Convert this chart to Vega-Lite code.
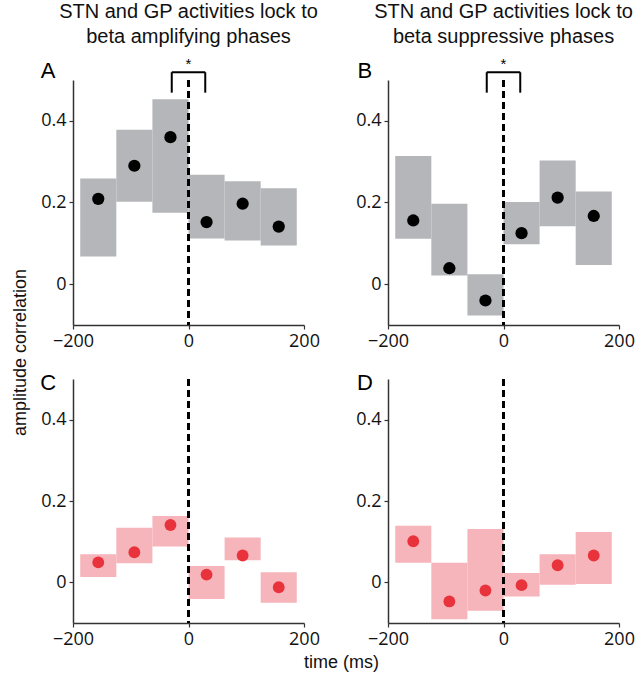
{
  "$schema": "https://vega.github.io/schema/vega-lite/v6.json",
  "padding": {"left": 11, "top": 1, "right": 5, "bottom": 5},
  "background": "white",
  "config": {
    "view": {"stroke": null},
    "axis": {"domainColor": "#333", "domainWidth": 1.5, "tickColor": "#333", "tickSize": 4, "tickWidth": 1.2, "labelFont": "Open Sans", "labelFontSize": 18, "labelColor": "#111", "grid": false, "titleFont": "Liberation Sans", "titleFontSize": 18, "titleFontWeight": "normal", "titleColor": "#111", "labelPadding": 3, "labelFlush": false}
  },
  "datasets": {
    "boxes": [
      {"panel": "A", "t0": -187.5, "t1": -125, "t": -156.25, "lo": 0.068, "hi": 0.259, "val": 0.209},
      {"panel": "A", "t0": -125, "t1": -62.5, "t": -93.75, "lo": 0.202, "hi": 0.378, "val": 0.290},
      {"panel": "A", "t0": -62.5, "t1": 0, "t": -31.25, "lo": 0.175, "hi": 0.453, "val": 0.360},
      {"panel": "A", "t0": 0, "t1": 62.5, "t": 31.25, "lo": 0.112, "hi": 0.268, "val": 0.152},
      {"panel": "A", "t0": 62.5, "t1": 125, "t": 93.75, "lo": 0.107, "hi": 0.252, "val": 0.197},
      {"panel": "A", "t0": 125, "t1": 187.5, "t": 156.25, "lo": 0.095, "hi": 0.235, "val": 0.141},
      {"panel": "B", "t0": -187.5, "t1": -125, "t": -156.25, "lo": 0.111, "hi": 0.314, "val": 0.156},
      {"panel": "B", "t0": -125, "t1": -62.5, "t": -93.75, "lo": 0.021, "hi": 0.197, "val": 0.039},
      {"panel": "B", "t0": -62.5, "t1": 0, "t": -31.25, "lo": -0.077, "hi": 0.024, "val": -0.040},
      {"panel": "B", "t0": 0, "t1": 62.5, "t": 31.25, "lo": 0.098, "hi": 0.201, "val": 0.125},
      {"panel": "B", "t0": 62.5, "t1": 125, "t": 93.75, "lo": 0.142, "hi": 0.303, "val": 0.212},
      {"panel": "B", "t0": 125, "t1": 187.5, "t": 156.25, "lo": 0.047, "hi": 0.227, "val": 0.167},
      {"panel": "C", "t0": -187.5, "t1": -125, "t": -156.25, "lo": 0.013, "hi": 0.069, "val": 0.049},
      {"panel": "C", "t0": -125, "t1": -62.5, "t": -93.75, "lo": 0.047, "hi": 0.134, "val": 0.074},
      {"panel": "C", "t0": -62.5, "t1": 0, "t": -31.25, "lo": 0.088, "hi": 0.163, "val": 0.141},
      {"panel": "C", "t0": 0, "t1": 62.5, "t": 31.25, "lo": -0.041, "hi": 0.040, "val": 0.019},
      {"panel": "C", "t0": 62.5, "t1": 125, "t": 93.75, "lo": 0.054, "hi": 0.110, "val": 0.066},
      {"panel": "C", "t0": 125, "t1": 187.5, "t": 156.25, "lo": -0.050, "hi": 0.025, "val": -0.012},
      {"panel": "D", "t0": -187.5, "t1": -125, "t": -156.25, "lo": 0.048, "hi": 0.139, "val": 0.101},
      {"panel": "D", "t0": -125, "t1": -62.5, "t": -93.75, "lo": -0.091, "hi": 0.048, "val": -0.047},
      {"panel": "D", "t0": -62.5, "t1": 0, "t": -31.25, "lo": -0.070, "hi": 0.131, "val": -0.020},
      {"panel": "D", "t0": 0, "t1": 62.5, "t": 31.25, "lo": -0.035, "hi": 0.023, "val": -0.007},
      {"panel": "D", "t0": 62.5, "t1": 125, "t": 93.75, "lo": -0.006, "hi": 0.069, "val": 0.042},
      {"panel": "D", "t0": 125, "t1": 187.5, "t": 156.25, "lo": -0.004, "hi": 0.124, "val": 0.066}
    ],
    "zero": [{"x": 0}],
    "bracket": [
      {"x": -29, "x2": 29, "y": 0.519, "y2": 0.519},
      {"x": -29, "x2": -29, "y": 0.519, "y2": 0.469},
      {"x": 29, "x2": 29, "y": 0.519, "y2": 0.469}
    ],
    "star": [{"x": 0, "y": 0.54, "label": "*"}],
    "letters": [
      {"panel": "A", "x": -243, "y": 0.522, "label": "A"},
      {"panel": "B", "x": -240, "y": 0.522, "label": "B"},
      {"panel": "C", "x": -243, "y": 0.49, "label": "C"},
      {"panel": "D", "x": -240, "y": 0.49, "label": "D"}
    ]
  },
  "columns": 2,
  "spacing": {"row": 54, "column": 84},
  "bounds": "flush",
  "concat": [
    {
      "width": 231, "height": 245,
      "title": {"text": ["STN and GP activities lock to", "beta amplifying phases"], "font": "Liberation Sans", "fontSize": 20, "fontWeight": "normal", "lineHeight": 25, "offset": 10, "anchor": "middle", "color": "#111"},
      "layer": [
        {"data": {"name": "boxes"}, "transform": [{"filter": "datum.panel === 'A'"}],
         "mark": {"type": "rect", "color": "#b4b6b9"},
         "encoding": {
           "x": {"field": "t0", "type": "quantitative", "scale": {"domain": [-200, 200], "nice": false}, "axis": {"title": null, "values": [-200, 0, 200], "format": "d"}},
           "x2": {"field": "t1"},
           "y": {"field": "lo", "type": "quantitative", "scale": {"domain": [-0.1, 0.5], "nice": false}, "axis": {"title": "amplitude correlation", "values": [0, 0.2, 0.4], "format": "~g", "titleY": 272, "titlePadding": 11}},
           "y2": {"field": "hi"}}},
        {"data": {"name": "zero"}, "mark": {"type": "rule", "strokeDash": [7, 4], "strokeWidth": 3, "color": "black"}, "encoding": {"x": {"field": "x", "type": "quantitative"}}},
        {"data": {"name": "boxes"}, "transform": [{"filter": "datum.panel === 'A'"}],
         "mark": {"type": "point", "shape": "circle", "filled": true, "size": 150, "color": "black", "opacity": 1},
         "encoding": {"x": {"field": "t", "type": "quantitative"}, "y": {"field": "val", "type": "quantitative"}}},
        {"data": {"name": "bracket"}, "mark": {"type": "rule", "strokeWidth": 2, "color": "black"},
         "encoding": {"x": {"field": "x", "type": "quantitative"}, "x2": {"field": "x2"}, "y": {"field": "y", "type": "quantitative"}, "y2": {"field": "y2"}}},
        {"data": {"name": "star"}, "mark": {"type": "text", "fontSize": 15, "font": "Liberation Sans", "color": "black", "clip": false},
         "encoding": {"x": {"field": "x", "type": "quantitative"}, "y": {"field": "y", "type": "quantitative"}, "text": {"field": "label"}}},
        {"data": {"name": "letters"}, "transform": [{"filter": "datum.panel === 'A'"}], "mark": {"type": "text", "fontSize": 22, "font": "Liberation Sans", "color": "black", "baseline": "middle"},
         "encoding": {"x": {"field": "x", "type": "quantitative"}, "y": {"field": "y", "type": "quantitative"}, "text": {"field": "label"}}}
      ]
    },
    {
      "width": 231, "height": 245,
      "title": {"text": ["STN and GP activities lock to", "beta suppressive phases"], "font": "Liberation Sans", "fontSize": 20, "fontWeight": "normal", "lineHeight": 25, "offset": 10, "anchor": "middle", "color": "#111"},
      "layer": [
        {"data": {"name": "boxes"}, "transform": [{"filter": "datum.panel === 'B'"}],
         "mark": {"type": "rect", "color": "#b4b6b9"},
         "encoding": {
           "x": {"field": "t0", "type": "quantitative", "scale": {"domain": [-200, 200], "nice": false}, "axis": {"title": null, "values": [-200, 0, 200], "format": "d"}},
           "x2": {"field": "t1"},
           "y": {"field": "lo", "type": "quantitative", "scale": {"domain": [-0.1, 0.5], "nice": false}, "axis": {"title": null, "values": [0, 0.2, 0.4], "format": "~g"}},
           "y2": {"field": "hi"}}},
        {"data": {"name": "zero"}, "mark": {"type": "rule", "strokeDash": [7, 4], "strokeWidth": 3, "color": "black"}, "encoding": {"x": {"field": "x", "type": "quantitative"}}},
        {"data": {"name": "boxes"}, "transform": [{"filter": "datum.panel === 'B'"}],
         "mark": {"type": "point", "shape": "circle", "filled": true, "size": 150, "color": "black", "opacity": 1},
         "encoding": {"x": {"field": "t", "type": "quantitative"}, "y": {"field": "val", "type": "quantitative"}}},
        {"data": {"name": "bracket"}, "mark": {"type": "rule", "strokeWidth": 2, "color": "black"},
         "encoding": {"x": {"field": "x", "type": "quantitative"}, "x2": {"field": "x2"}, "y": {"field": "y", "type": "quantitative"}, "y2": {"field": "y2"}}},
        {"data": {"name": "star"}, "mark": {"type": "text", "fontSize": 15, "font": "Liberation Sans", "color": "black", "clip": false},
         "encoding": {"x": {"field": "x", "type": "quantitative"}, "y": {"field": "y", "type": "quantitative"}, "text": {"field": "label"}}},
        {"data": {"name": "letters"}, "transform": [{"filter": "datum.panel === 'B'"}], "mark": {"type": "text", "fontSize": 22, "font": "Liberation Sans", "color": "black", "baseline": "middle"},
         "encoding": {"x": {"field": "x", "type": "quantitative"}, "y": {"field": "y", "type": "quantitative"}, "text": {"field": "label"}}}
      ]
    },
    {
      "width": 231, "height": 244,
      "layer": [
        {"data": {"name": "boxes"}, "transform": [{"filter": "datum.panel === 'C'"}],
         "mark": {"type": "rect", "color": "#f5b5bb"},
         "encoding": {
           "x": {"field": "t0", "type": "quantitative", "scale": {"domain": [-200, 200], "nice": false}, "axis": {"title": "time (ms)", "values": [-200, 0, 200], "format": "d", "titleX": 268, "titlePadding": 5}},
           "x2": {"field": "t1"},
           "y": {"field": "lo", "type": "quantitative", "scale": {"domain": [-0.1, 0.5], "nice": false}, "axis": {"title": null, "values": [0, 0.2, 0.4], "format": "~g"}},
           "y2": {"field": "hi"}}},
        {"data": {"name": "zero"}, "mark": {"type": "rule", "strokeDash": [7, 4], "strokeWidth": 3, "color": "black"}, "encoding": {"x": {"field": "x", "type": "quantitative"}}},
        {"data": {"name": "boxes"}, "transform": [{"filter": "datum.panel === 'C'"}],
         "mark": {"type": "point", "shape": "circle", "filled": true, "size": 140, "color": "#e8333c", "opacity": 1},
         "encoding": {"x": {"field": "t", "type": "quantitative"}, "y": {"field": "val", "type": "quantitative"}}},
        {"data": {"name": "letters"}, "transform": [{"filter": "datum.panel === 'C'"}], "mark": {"type": "text", "fontSize": 22, "font": "Liberation Sans", "color": "black", "baseline": "middle"},
         "encoding": {"x": {"field": "x", "type": "quantitative"}, "y": {"field": "y", "type": "quantitative"}, "text": {"field": "label"}}}
      ]
    },
    {
      "width": 231, "height": 244,
      "layer": [
        {"data": {"name": "boxes"}, "transform": [{"filter": "datum.panel === 'D'"}],
         "mark": {"type": "rect", "color": "#f5b5bb"},
         "encoding": {
           "x": {"field": "t0", "type": "quantitative", "scale": {"domain": [-200, 200], "nice": false}, "axis": {"title": null, "values": [-200, 0, 200], "format": "d"}},
           "x2": {"field": "t1"},
           "y": {"field": "lo", "type": "quantitative", "scale": {"domain": [-0.1, 0.5], "nice": false}, "axis": {"title": null, "values": [0, 0.2, 0.4], "format": "~g"}},
           "y2": {"field": "hi"}}},
        {"data": {"name": "zero"}, "mark": {"type": "rule", "strokeDash": [7, 4], "strokeWidth": 3, "color": "black"}, "encoding": {"x": {"field": "x", "type": "quantitative"}}},
        {"data": {"name": "boxes"}, "transform": [{"filter": "datum.panel === 'D'"}],
         "mark": {"type": "point", "shape": "circle", "filled": true, "size": 140, "color": "#e8333c", "opacity": 1},
         "encoding": {"x": {"field": "t", "type": "quantitative"}, "y": {"field": "val", "type": "quantitative"}}},
        {"data": {"name": "letters"}, "transform": [{"filter": "datum.panel === 'D'"}], "mark": {"type": "text", "fontSize": 22, "font": "Liberation Sans", "color": "black", "baseline": "middle"},
         "encoding": {"x": {"field": "x", "type": "quantitative"}, "y": {"field": "y", "type": "quantitative"}, "text": {"field": "label"}}}
      ]
    }
  ]
}
